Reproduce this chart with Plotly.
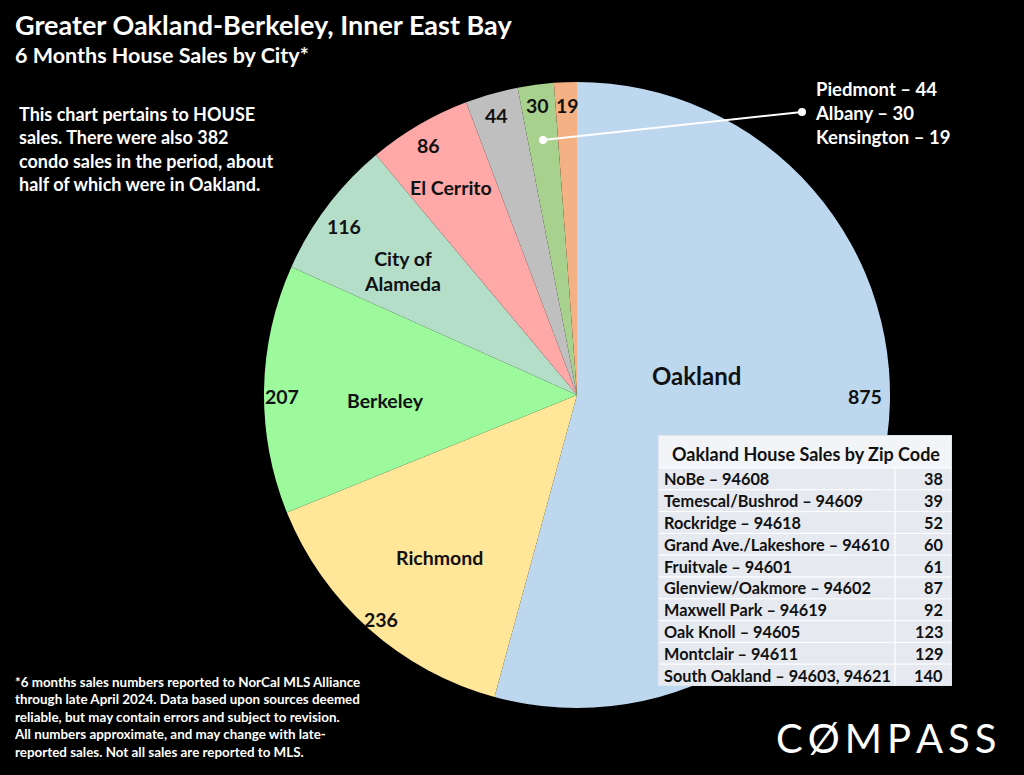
import plotly.graph_objects as go

# ---- data ----
cities = ["Oakland", "Richmond", "Berkeley", "City of Alameda", "El Cerrito",
          "Piedmont", "Albany", "Kensington"]
sales = [875, 236, 207, 116, 86, 44, 30, 19]
colors = ["#BDD7EE", "#FFE699", "#9CFA9C", "#B5DEC9", "#FFA8A8",
          "#BFBFBF", "#A9D18E", "#F4B183"]

zip_areas = ["NoBe – 94608", "Temescal/Bushrod – 94609", "Rockridge – 94618",
             "Grand Ave./Lakeshore – 94610", "Fruitvale – 94601",
             "Glenview/Oakmore – 94602", "Maxwell Park – 94619",
             "Oak Knoll – 94605", "Montclair – 94611",
             "South Oakland – 94603, 94621"]
zip_sales = [38, 39, 52, 60, 61, 87, 92, 123, 129, 140]

W, H = 1024, 775
FONT = "Lato"


def px(x):
    return x / W


def py(y):
    return 1 - y / H


fig = go.Figure()

fig.add_trace(go.Pie(
    labels=cities, values=sales, sort=False, direction="clockwise",
    rotation=0, textinfo="none", hoverinfo="label+value",
    marker=dict(colors=colors, line=dict(width=0)),
    domain=dict(x=[px(577 - 316), px(577 + 316)], y=[py(708), py(82)]),
    showlegend=False,
))

# ---- Oakland zip table on a hidden cartesian axis (units = pixels) ----
TW = 294          # table width
C1 = 237          # first column width
HDR = 33          # header height
RH = 21.8         # row height
n = len(zip_areas)
TH = HDR + RH * n

ann = []
shapes = []

# header cell
shapes.append(dict(type="rect", xref="x", yref="y", layer="above",
                   x0=0, x1=TW, y0=0, y1=HDR, fillcolor="#F2F4F8",
                   line=dict(color="#FFFFFF", width=1)))
ann.append(dict(text="<b>Oakland House Sales by Zip Code</b>", xref="x", yref="y",
                x=TW / 2 + 1, y=HDR / 2 + 2, showarrow=False,
                xanchor="center", yanchor="middle",
                font=dict(family=FONT, size=18, color="#111111")))
for i, (area, val) in enumerate(zip(zip_areas, zip_sales)):
    y0 = HDR + RH * i
    for (xa, xb) in [(0, C1), (C1, TW)]:
        shapes.append(dict(type="rect", xref="x", yref="y", layer="above",
                           x0=xa, x1=xb, y0=y0, y1=y0 + RH, fillcolor="#E6EAF0",
                           line=dict(color="#FFFFFF", width=1)))
    ann.append(dict(text="<b>%s</b>" % area, xref="x", yref="y",
                    x=4, y=y0 + RH / 2, showarrow=False,
                    xanchor="left", yanchor="middle",
                    font=dict(family=FONT, size=16.3, color="#111111")))
    ann.append(dict(text="<b>%d</b>" % val, xref="x", yref="y",
                    x=TW - 7, y=y0 + RH / 2, showarrow=False,
                    xanchor="right", yanchor="middle",
                    font=dict(family=FONT, size=16.3, color="#111111")))

# table border
shapes.append(dict(type="rect", xref="x", yref="y", layer="above",
                   x0=0, x1=TW, y0=0, y1=TH, fillcolor="rgba(0,0,0,0)",
                   line=dict(color="#D5DEEA", width=1.5)))


def label(text, x, y, size=19.5, color="#111111", xanchor="center", align="center"):
    ann.append(dict(text=text, x=px(x), y=py(y), xref="paper", yref="paper",
                    showarrow=False, xanchor=xanchor, yanchor="middle",
                    align=align, font=dict(family=FONT, size=size, color=color)))


# slice labels
label("<b>Oakland</b>", 696, 375, size=24)
label("<b>875</b>", 865, 396)
label("<b>Richmond</b>", 439, 557)
label("<b>236</b>", 381, 619)
label("<b>Berkeley</b>", 385, 400)
label("<b>207</b>", 282, 396)
label("<b>City of<br>Alameda</b>", 402, 271)
label("<b>116</b>", 344, 226)
label("<b>El Cerrito</b>", 451, 187)
label("<b>86</b>", 428, 146)
label("<b>44</b>", 496, 116)
label("<b>30</b>", 537, 106)
label("<b>19</b>", 567, 105)

# callout
label("<b>Piedmont – 44<br>Albany – 30<br>Kensington – 19</b>", 813, 113,
      size=18.5, color="#FFFFFF", xanchor="left", align="left")

# titles
label("<b>Greater Oakland-Berkeley, Inner East Bay</b>", 13, 25, size=27,
      color="#FFFFFF", xanchor="left", align="left")
label("<b>6 Months House Sales by City*</b>", 13, 55, size=21.5,
      color="#FFFFFF", xanchor="left", align="left")

# note
label("<b>This chart pertains to HOUSE<br>sales. There were also 382<br>"
      "condo sales in the period, about<br>half of which were in Oakland.</b>",
      17, 149, size=18, color="#FFFFFF", xanchor="left", align="left")

# footnote
label("<b>*6 months sales numbers reported to NorCal MLS Alliance<br>"
      "through late April 2024. Data based upon sources deemed<br>"
      "reliable, but may contain errors and subject to revision.<br>"
      "All numbers approximate, and may change with late-<br>"
      "reported sales. Not all sales are reported to MLS.</b>",
      12, 717, size=13.4, color="#FFFFFF", xanchor="left", align="left")

# logo
label("C\u2009Ø\u2009M\u2009P\u2009A\u2009S\u2009S", 886, 738, size=40,
      color="#FFFFFF")

shapes += [
    dict(type="line", xref="paper", yref="paper", layer="above",
         x0=px(543), y0=py(140), x1=px(802), y1=py(112),
         line=dict(color="#FFFFFF", width=2)),
    dict(type="circle", xref="paper", yref="paper", layer="above",
         x0=px(539), y0=py(136), x1=px(547), y1=py(144),
         fillcolor="#FFFFFF", line=dict(width=0)),
    dict(type="circle", xref="paper", yref="paper", layer="above",
         x0=px(798), y0=py(108), x1=px(806), y1=py(116),
         fillcolor="#FFFFFF", line=dict(width=0)),
]

fig.update_layout(
    width=W, height=H, paper_bgcolor="#000000", plot_bgcolor="rgba(0,0,0,0)",
    margin=dict(l=0, r=0, t=0, b=0),
    xaxis=dict(domain=[px(658), px(952)], range=[0, TW], visible=False,
               fixedrange=True),
    yaxis=dict(domain=[py(686), py(435)], range=[TH, 0], visible=False,
               fixedrange=True),
    annotations=ann, shapes=shapes,
)

fig.write_html("out.html", config={"displayModeBar": False},
               post_script="document.body.style.margin='0px';")
